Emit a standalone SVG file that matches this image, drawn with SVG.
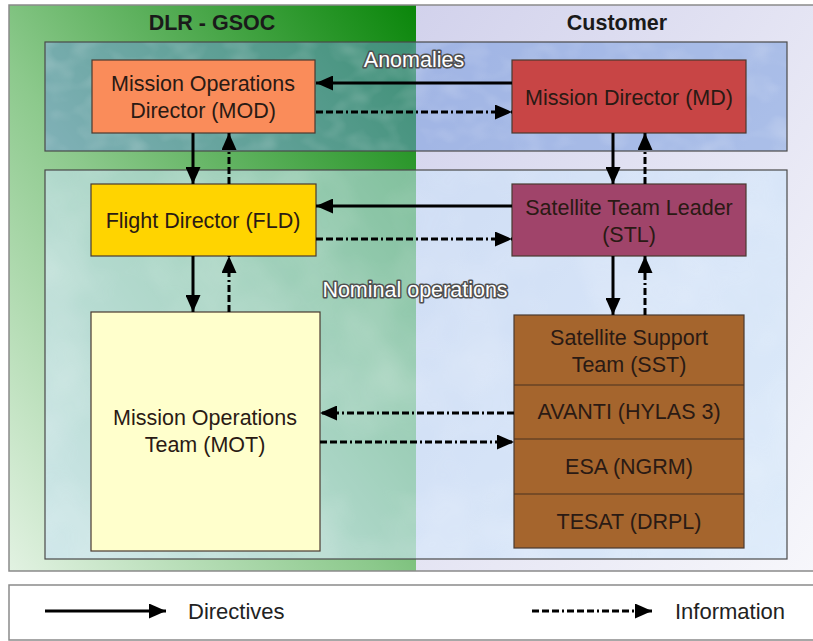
<svg xmlns="http://www.w3.org/2000/svg" width="813" height="641" viewBox="0 0 813 641">
<style>
text{font-family:"Liberation Sans",Arial,sans-serif;}
.hdr{font-size:21.5px;font-weight:bold;fill:#1a1a1a;text-anchor:middle;}
.lbl{font-size:21.5px;fill:#2a1a14;text-anchor:middle;}
.band{font-size:21.5px;fill:#ffffff;stroke:#505050;stroke-width:3.2;paint-order:stroke;stroke-linejoin:round;text-anchor:middle;}
.leg{font-size:22px;fill:#222;}
.box{stroke:#4a3a30;stroke-width:1.2;}
.dir{stroke:#000;stroke-width:3;fill:none;marker-end:url(#ah);}
.inf{stroke:#000;stroke-width:3;fill:none;stroke-dasharray:7 3 7 3 7 3 2 3;marker-end:url(#ah);}
</style>
<defs>
<linearGradient id="gL" x1="0" y1="1" x2="1" y2="0">
<stop offset="0" stop-color="#e2f2e2"/>
<stop offset="0.45" stop-color="#8cc98c"/>
<stop offset="1" stop-color="#0a860a"/>
</linearGradient>
<linearGradient id="gR" x1="0" y1="0" x2="1" y2="1">
<stop offset="0" stop-color="#d2d2ec"/>
<stop offset="1" stop-color="#f7f7fb"/>
</linearGradient>
<filter id="water" x="0" y="0" width="100%" height="100%">
<feTurbulence type="fractalNoise" baseFrequency="0.035 0.05" numOctaves="2" seed="4" result="n"/>
<feColorMatrix in="n" type="matrix" values="0 0 0 0 1  0 0 0 0 1  0 0 0 0 1  0 0 0 -2.2 1.25" result="c"/>
<feComposite in="c" in2="SourceGraphic" operator="in"/>
</filter>
<filter id="cloud" x="0" y="0" width="100%" height="100%">
<feTurbulence type="fractalNoise" baseFrequency="0.012" numOctaves="3" seed="7" result="n"/>
<feColorMatrix in="n" type="matrix" values="0 0 0 0 1  0 0 0 0 1  0 0 0 0 1  0 0 0 1.2 -0.45" result="c"/>
<feComposite in="c" in2="SourceGraphic" operator="in"/>
</filter>
<marker id="ah" markerWidth="18" markerHeight="15" refX="17" refY="7.5" orient="auto" markerUnits="userSpaceOnUse">
<path d="M0,0 L17,7.5 L0,15 z" fill="#000"/>
</marker>
</defs>

<g id="background">
<rect x="9" y="5" width="407" height="566" fill="url(#gL)"/>
<rect x="416" y="5" width="400" height="566" fill="url(#gR)"/>
<rect x="9" y="5" width="810" height="566" fill="none" stroke="#8a8a8a" stroke-width="1.5"/>
<text class="hdr" x="212" y="30">DLR - GSOC</text>
<text class="hdr" x="617" y="30">Customer</text>
</g>

<g id="anomalies">
<rect x="45" y="42" width="742" height="109" fill="#6e96dc" fill-opacity="0.5"/>
<rect x="45" y="42" width="742" height="109" fill="#ffffff" opacity="0.18" filter="url(#water)"/>
<rect x="45" y="42" width="742" height="109" fill="none" stroke="#4a4a4a" stroke-width="1.2"/>
<text class="band" x="414" y="67">Anomalies</text>
</g>

<g id="nominal">
<rect x="45" y="170" width="742" height="389" fill="#c8e1fa" fill-opacity="0.55"/>
<rect x="45" y="170" width="742" height="389" fill="#ffffff" opacity="0.35" filter="url(#cloud)"/>
<rect x="45" y="170" width="742" height="389" fill="none" stroke="#4a4a4a" stroke-width="1.2"/>
<text class="band" x="415" y="297">Nominal operations</text>
</g>

<g id="MOD">
<rect class="box" x="92" y="60" width="223" height="73" fill="#fa8c5a"/>
<text class="lbl" x="203" y="91">Mission Operations</text>
<text class="lbl" x="203" y="118">Director (MOD)</text>
</g>
<g id="MD">
<rect class="box" x="512" y="60" width="234" height="73" fill="#c84545"/>
<text class="lbl" x="629" y="105">Mission Director (MD)</text>
</g>
<g id="FLD">
<rect class="box" x="91" y="184" width="225" height="72" fill="#ffd400"/>
<text class="lbl" x="203" y="228">Flight Director (FLD)</text>
</g>
<g id="STL">
<rect class="box" x="512" y="184" width="234" height="72" fill="#a0446a"/>
<text class="lbl" x="629" y="215">Satellite Team Leader</text>
<text class="lbl" x="629" y="242">(STL)</text>
</g>
<g id="MOT">
<rect class="box" x="91" y="312" width="229" height="239" fill="#ffffcc"/>
<text class="lbl" x="205" y="425">Mission Operations</text>
<text class="lbl" x="205" y="452">Team (MOT)</text>
</g>
<g id="SST">
<rect class="box" x="514" y="315" width="230" height="233" fill="#a5652d"/>
<line x1="514" y1="385" x2="744" y2="385" stroke="#4a3220" stroke-width="1.2"/>
<line x1="514" y1="439" x2="744" y2="439" stroke="#4a3220" stroke-width="1.2"/>
<line x1="514" y1="494" x2="744" y2="494" stroke="#4a3220" stroke-width="1.2"/>
<text class="lbl" x="629" y="345">Satellite Support</text>
<text class="lbl" x="629" y="372">Team (SST)</text>
<text class="lbl" x="629" y="419">AVANTI (HYLAS 3)</text>
<text class="lbl" x="629" y="474">ESA (NGRM)</text>
<text class="lbl" x="629" y="529">TESAT (DRPL)</text>
</g>

<g id="connectors">
<path class="dir" d="M512,83 H316"/>
<path class="inf" d="M316,112 H512"/>
<path class="dir" d="M193,133 V184"/>
<path class="inf" d="M229,184 V133"/>
<path class="dir" d="M613,133 V184"/>
<path class="inf" d="M645,184 V133"/>
<path class="dir" d="M512,206 H316"/>
<path class="inf" d="M316,239 H512"/>
<path class="dir" d="M193,256 V312"/>
<path class="inf" d="M229,312 V256"/>
<path class="dir" d="M613,256 V315"/>
<path class="inf" d="M645,315 V256"/>
<path class="inf" d="M514,413 H320"/>
<path class="inf" d="M320,442 H514"/>
</g>

<g id="legend">
<rect x="9" y="585" width="810" height="55" fill="#ffffff" stroke="#8a8a8a" stroke-width="1.5"/>
<path class="dir" d="M45,611 H166"/>
<text class="leg" x="188" y="619">Directives</text>
<path class="inf" d="M532,611 H652"/>
<text class="leg" x="675" y="619">Information</text>
</g>
</svg>
